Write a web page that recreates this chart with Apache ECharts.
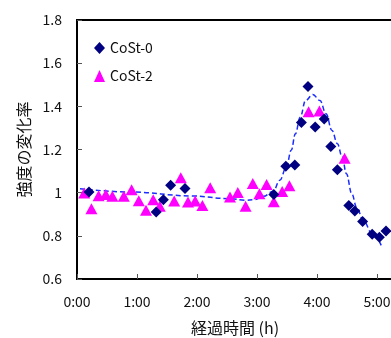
<!DOCTYPE html>
<html>
<head>
<meta charset="utf-8">
<script src="https://cdn.jsdelivr.net/npm/echarts@6/dist/echarts.min.js"></script>
<style>
  html, body { margin: 0; padding: 0; background: #fff; }
  #chart { width: 391px; height: 338px; }
</style>
</head>
<body>
<div id="chart"></div>
<script>
// elapsed time in hours, strength change ratio
const cost0Time = [0.2, 1.32, 1.44, 1.56, 1.8, 3.28, 3.48, 3.63, 3.74, 3.85, 3.97, 4.12, 4.23, 4.34, 4.53, 4.63, 4.76, 4.92, 5.04, 5.15];
const cost0Value = [1.003, 0.91, 0.967, 1.034, 1.019, 0.992, 1.122, 1.128, 1.325, 1.492, 1.304, 1.341, 1.214, 1.106, 0.94, 0.915, 0.866, 0.807, 0.794, 0.822];

const cost2Time = [0.12, 0.24, 0.36, 0.48, 0.59, 0.78, 0.91, 1.03, 1.15, 1.27, 1.38, 1.62, 1.73, 1.85, 1.97, 2.09, 2.22, 2.55, 2.68, 2.81, 2.93, 3.04, 3.16, 3.28, 3.42, 3.54, 3.86, 4.04, 4.46];
const cost2Value = [0.998, 0.926, 0.986, 0.992, 0.983, 0.983, 1.014, 0.963, 0.918, 0.967, 0.937, 0.961, 1.069, 0.957, 0.961, 0.94, 1.023, 0.98, 1.001, 0.937, 1.042, 0.995, 1.038, 0.958, 1.005, 1.032, 1.375, 1.378, 1.159];

// dashed fit curve
const fitTime = [0.05, 0.9, 1.9, 2.55, 2.8, 2.95, 3.11, 3.27, 3.38, 3.49, 3.57, 3.64, 3.72, 3.81, 3.93, 4.05, 4.15, 4.25, 4.34, 4.42, 4.49, 4.58, 4.66, 4.77, 4.92, 5.07];
const fitValue = [1.018, 1.003, 0.985, 0.972, 0.965, 0.967, 0.983, 1.007, 1.057, 1.119, 1.196, 1.273, 1.35, 1.427, 1.455, 1.427, 1.366, 1.288, 1.227, 1.165, 1.088, 0.995, 0.933, 0.872, 0.81, 0.756];

const seriesNames = ['CoSt-0', 'CoSt-2'];
const yAxisTitle = '強度の変化率';
const xAxisTitle = '経過時間 (h)';

const FONT = '"Noto Sans CJK JP", "Liberation Sans", sans-serif';
const NAVY = '#000080';
const MAGENTA = '#ff00ff';

const zip = (xs, ys) => xs.map((x, i) => [x, ys[i]]);

const chart = echarts.init(document.getElementById('chart'), null, { renderer: 'canvas' });

chart.setOption({
  animation: false,
  backgroundColor: '#fff',
  grid: {
    left: 77,
    right: -46,
    top: 20,
    bottom: 59,
    outerBoundsMode: 'none',
    containLabel: false,
    show: true,
    borderColor: '#000',
    borderWidth: 2,
    backgroundColor: 'transparent',
  },
  legend: {
    data: [
      { name: seriesNames[0], icon: 'diamond' },
      { name: seriesNames[1], icon: 'triangle' },
    ],
    orient: 'vertical',
    left: 89,
    top: 36,
    itemWidth: 11,
    itemHeight: 12,
    itemGap: 14,
    textStyle: { color: '#111', fontSize: 14, fontFamily: FONT },
  },
  xAxis: {
    type: 'value',
    min: 0,
    max: 6,
    interval: 1,
    name: xAxisTitle,
    nameLocation: 'middle',
    nameGap: 41,
    nameTextStyle: { color: '#111', fontSize: 16, fontFamily: FONT, padding: [0, 44, 0, 0] },
    axisLine: { lineStyle: { color: '#000', width: 2 } },
    axisTick: { inside: true, length: 5, lineStyle: { color: '#555' } },
    axisLabel: {
      color: '#111',
      fontSize: 14,
      fontFamily: FONT,
      margin: 16,
      formatter: (v) => v + ':00',
    },
    splitLine: { show: false },
  },
  yAxis: {
    type: 'value',
    min: 0.6,
    max: 1.8,
    interval: 0.2,
    name: yAxisTitle,
    nameLocation: 'middle',
    nameGap: 44,
    nameTextStyle: { color: '#111', fontSize: 16, fontFamily: FONT },
    axisLine: { lineStyle: { color: '#000', width: 2 } },
    axisTick: { inside: true, length: 5, lineStyle: { color: '#555' } },
    axisLabel: { color: '#111', fontSize: 14, fontFamily: FONT, margin: 15 },
    splitLine: { show: false },
  },
  series: [
    {
      name: 'fit',
      type: 'line',
      data: zip(fitTime, fitValue),
      smooth: 0.4,
      smoothMonotone: 'x',
      symbol: 'none',
      lineStyle: { color: '#1a2cff', width: 1.5, type: [5, 3] },
      silent: true,
      z: 1,
    },
    {
      name: seriesNames[1],
      type: 'scatter',
      data: zip(cost2Time, cost2Value),
      symbol: 'triangle',
      symbolSize: [12, 11],
      itemStyle: { color: MAGENTA, opacity: 1 },
      z: 2,
    },
    {
      name: seriesNames[0],
      type: 'scatter',
      data: zip(cost0Time, cost0Value),
      symbol: 'diamond',
      symbolSize: [11, 11],
      itemStyle: { color: NAVY, opacity: 1 },
      z: 3,
    },
  ],
});
</script>
</body>
</html>
